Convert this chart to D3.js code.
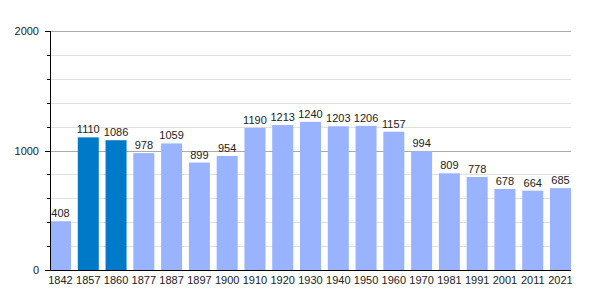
<!DOCTYPE html>
<html>
<head>
<meta charset="utf-8">
<script src="https://cdn.jsdelivr.net/npm/d3@7"></script>
<style>
  body { margin: 0; background: #fff; }
  text { font-family: "Liberation Sans", Arial, sans-serif; font-size: 11px; fill: #222; }
</style>
</head>
<body>
<div id="chart"></div>
<script>
const years = ['1842', '1857', '1860', '1877', '1887', '1897', '1900', '1910', '1920', '1930',
               '1940', '1950', '1960', '1970', '1981', '1991', '2001', '2011', '2021'];
const population = [408, 1110, 1086, 978, 1059, 899, 954, 1190, 1213, 1240,
                    1203, 1206, 1157, 994, 809, 778, 678, 664, 685];
const highlighted = ['1857', '1860'];
const majorTicks = [0, 1000, 2000];
const minorTicks = d3.range(200, 2000, 200).filter((d) => d !== 1000);

const width = 600;
const height = 300;
const marginLeft = 50;
const plotRight = 571;
const plotTop = 31;
const plotBottom = 270;

const svg = d3.select('#chart')
              .append('svg')
              .attr('width', width)
              .attr('height', height);

const x = d3.scaleBand()
            .domain(years)
            .range([marginLeft, plotRight])
            .paddingInner(0.244)
            .paddingOuter(0);
const y = d3.scaleLinear()
            .domain([0, 2000])
            .range([plotBottom, plotTop]);

const py = (d) => Math.round(y(d)) + 0.5;

// minor grid
svg.append('g')
   .selectAll('line')
   .data(minorTicks)
   .enter()
   .append('line')
   .attr('x1', marginLeft)
   .attr('x2', plotRight)
   .attr('y1', py)
   .attr('y2', py)
   .style('stroke', '#e0e0e0');

// major grid
svg.append('g')
   .selectAll('line')
   .data(majorTicks.slice(1))
   .enter()
   .append('line')
   .attr('x1', marginLeft)
   .attr('x2', plotRight)
   .attr('y1', py)
   .attr('y2', py)
   .style('stroke', '#aaa');

// bars
svg.append('g')
   .selectAll('rect')
   .data(population)
   .enter()
   .append('rect')
   .attr('x', (d, i) => x(years[i]))
   .attr('y', (d) => y(d))
   .attr('width', x.bandwidth())
   .attr('height', (d) => y(0) - y(d))
   .style('fill', (d, i) => highlighted.includes(years[i]) ? '#0079c9' : '#99b3ff');

// value labels
svg.append('g')
   .selectAll('text')
   .data(population)
   .enter()
   .append('text')
   .attr('x', (d, i) => x(years[i]) + x.bandwidth() / 2)
   .attr('y', (d) => y(d) - 4)
   .attr('text-anchor', 'middle')
   .text((d) => d);

// Y axis with minor ticks
const yAxis = svg.append('g');
yAxis.append('line')
     .attr('x1', marginLeft + 0.5).attr('x2', marginLeft + 0.5)
     .attr('y1', plotTop).attr('y2', plotBottom)
     .style('stroke', '#000');
yAxis.selectAll('.minor')
     .data(minorTicks)
     .enter()
     .append('line')
     .attr('x1', marginLeft - 3).attr('x2', marginLeft)
     .attr('y1', py)
     .attr('y2', py)
     .style('stroke', '#000');
yAxis.selectAll('.major')
     .data(majorTicks)
     .enter()
     .append('line')
     .attr('x1', marginLeft - 5).attr('x2', marginLeft)
     .attr('y1', py)
     .attr('y2', py)
     .style('stroke', '#000');
yAxis.selectAll('text')
     .data(majorTicks)
     .enter()
     .append('text')
     .attr('x', marginLeft - 11)
     .attr('y', (d) => y(d) + 4)
     .attr('text-anchor', 'end')
     .text((d) => d);

// X axis
svg.append('path')
   .attr('d', `M${marginLeft},${plotBottom + 0.5}H${plotRight}`)
   .style('stroke', '#000');
svg.append('g')
   .selectAll('text')
   .data(years)
   .enter()
   .append('text')
   .attr('x', (d) => x(d) + x.bandwidth() / 2)
   .attr('y', plotBottom + 14)
   .attr('text-anchor', 'middle')
   .text((d) => d);
</script>
</body>
</html>
